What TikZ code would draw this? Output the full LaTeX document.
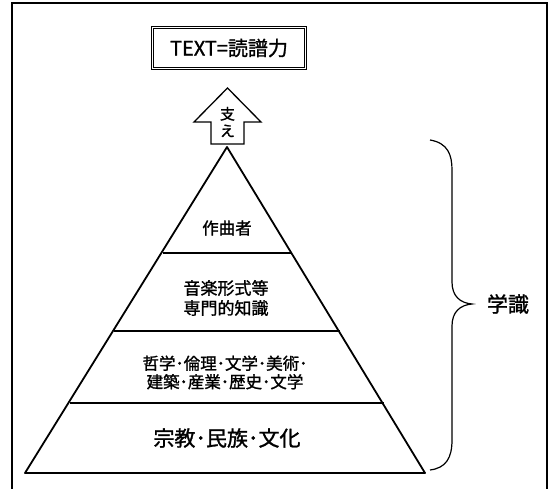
\documentclass[tikz,border=0pt]{standalone}
\usepackage{fontspec}
\setmainfont{Noto Sans CJK JP}
\newfontfamily\cjk[FakeBold=1.3]{Noto Sans CJK JP}
\begin{document}
\begin{tikzpicture}[x=1pt,y=-1pt,
  lbl/.style={font=\cjk\fontsize{#1}{#1}\selectfont, inner sep=0pt, align=center},
  pyr/.style={line width=1.8pt, line join=round},
  frame/.style={line width=1.4pt}]
\useasboundingbox (0,0) rectangle (554,489);
\fill[white] (0,0) rectangle (554,489);
% outer frame
\draw[frame] (12,495) -- (12,3) -- (547,3) -- (547,495);
% title box
\node[draw, double, double distance=1.6pt, line width=0.9pt, minimum width=153pt, minimum height=41pt, inner sep=0pt] (title) at (229,48) {};
\node[lbl=20] (titletext) at (title.center) {TEXT=読譜力};
% support arrow
\coordinate (tip) at (227.5,88);
\draw[line width=1.3pt, line join=miter] (tip) -- (261,122) -- (244,122) -- (244,144) -- (211,144) -- (211,122) -- (194,122) -- cycle;
\node[lbl=15, align=center] (sasae) at (227.5,122) {支\\[2pt]え};
% pyramid
\coordinate (apex) at (227,147);
\coordinate (bl) at (25,473);
\coordinate (br) at (425,473);
\draw[pyr] (apex) -- (br) -- (bl) -- cycle;
\draw[line width=1.3pt] (162.5,253) -- (292,253);
\draw[line width=1.3pt] (114,331) -- (339.5,331);
\draw[line width=1.3pt] (69.5,403) -- (383.5,403);
\node[lbl=16.5] (l1) at (227,228) {作曲者};
\node[lbl=17, align=center] (l2) at (226,298) {音楽形式等\\[3pt]専門的知識};
\node[lbl=16.5, align=center] (l3) at (225,372.5) {哲学･倫理･文学･美術･\\[2pt]建築･産業･歴史･文学};
\node[lbl=21] (l4) at (227,438) {宗教･民族･文化};
% brace
\draw[line width=1.2pt] (430,140) .. controls (448,143) and (452,155) .. (452,170)
  -- (452,282) .. controls (452,296) and (460,303) .. (472,304)
  .. controls (460,305) and (452,312) .. (452,326)
  -- (452,440) .. controls (452,458) and (446,468) .. (430,470);
\node[lbl=21] (gakushiki) at (508,304) {学識};
\end{tikzpicture}
\end{document}
